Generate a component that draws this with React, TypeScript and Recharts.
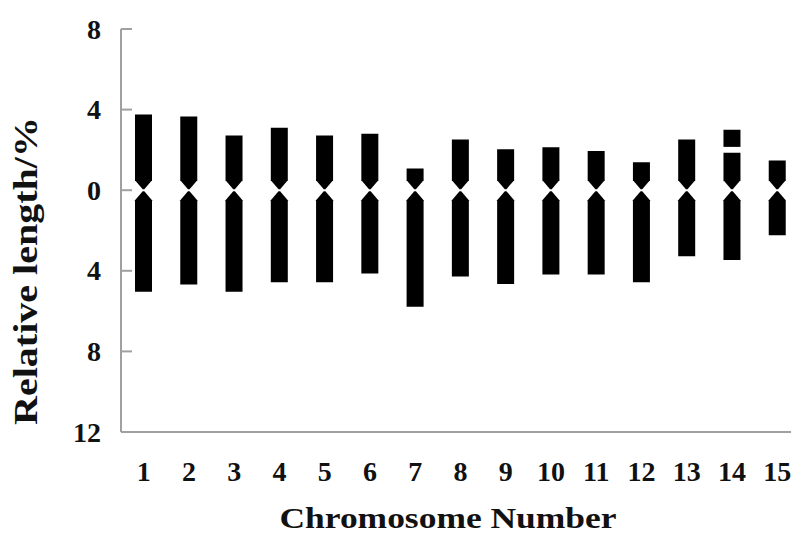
import { BarChart, Bar, XAxis, YAxis } from 'recharts';

const chromosomes = ['1', '2', '3', '4', '5', '6', '7', '8', '9', '10', '11', '12', '13', '14', '15'];
// short arm (p) and long arm (q) relative lengths, %
const shortArm = [3.76, 3.66, 2.71, 3.1, 2.71, 2.8, 1.08, 2.52, 2.03, 2.13, 1.94, 1.39, 2.52, 1.86, 1.47];
const longArm = [5.04, 4.68, 5.04, 4.57, 4.57, 4.13, 5.79, 4.28, 4.65, 4.18, 4.18, 4.57, 3.28, 3.47, 2.23];
// satellite on chromosome 14
const satelliteStart: (number | null)[] = [null, null, null, null, null, null, null, null, null, null, null, null, null, 2.15, null];
const satelliteEnd: (number | null)[] = [null, null, null, null, null, null, null, null, null, null, null, null, null, 3.0, null];
const yTicks = [-12, -8, -4, 0, 4, 8];

const data = chromosomes.map((chr, i) => ({
  chr,
  p: [0, shortArm[i]],
  q: [-longArm[i], 0],
  sat: satelliteStart[i] == null ? null : [satelliteStart[i], satelliteEnd[i]],
}));

const FONT = 'Liberation Serif, Times New Roman, Times, serif';
const AXIS = '#a0a0a0';
const TAPER = 10;

const span = (y: number, height: number) => [Math.min(y, y + height), Math.max(y, y + height)];

const ShortArm = (props: any) => {
  const { x, y, width, height } = props;
  if (width == null || height == null) return null;
  const [top, bottom] = span(y, height);
  const cx = x + width / 2;
  const pts = [
    [x, top], [x + width, top], [x + width, bottom - TAPER],
    [cx + 0.8, bottom - 1], [cx - 0.8, bottom - 1], [x, bottom - TAPER],
  ];
  return <polygon points={pts.map(p => p.join(',')).join(' ')} fill="#000" />;
};

const LongArm = (props: any) => {
  const { x, y, width, height } = props;
  if (width == null || height == null) return null;
  const [top, bottom] = span(y, height);
  const cx = x + width / 2;
  const pts = [
    [cx - 0.8, top + 1], [cx + 0.8, top + 1], [x + width, top + TAPER],
    [x + width, bottom], [x, bottom], [x, top + TAPER],
  ];
  return <polygon points={pts.map(p => p.join(',')).join(' ')} fill="#000" />;
};

const Satellite = (props: any) => {
  const { x, y, width, height } = props;
  if (width == null || height == null || !props.payload?.sat) return null;
  const [top, bottom] = span(y, height);
  return <rect x={x} y={top} width={width} height={bottom - top} fill="#000" />;
};

const YTick = (props: any) => {
  const { x, y, payload } = props;
  return (
    <g>
      {payload.value > -12 && <line x1={x} x2={x + 11} y1={y} y2={y} stroke={AXIS} strokeWidth={2} />}
      <text x={x - 20} y={y + 9.5} textAnchor="end" style={{ fontFamily: FONT, fontWeight: 700, fontSize: 28 }} fill="#111">
        {Math.abs(payload.value)}
      </text>
    </g>
  );
};

const XTick = (props: any) => {
  const { x, payload } = props;
  return (
    <text x={x} y={481} textAnchor="middle" style={{ fontFamily: FONT, fontWeight: 700, fontSize: 28 }} fill="#111">
      {payload.value}
    </text>
  );
};

const Titles = () => (
  <g>
    <text x={448} y={528} textAnchor="middle" style={{ fontFamily: FONT, fontWeight: 700, fontSize: 30 }} fill="#111"
      textLength={337} lengthAdjust="spacingAndGlyphs">
      Chromosome Number
    </text>
    <text x={37} y={271} transform="rotate(-90, 37, 271)" textAnchor="middle"
      style={{ fontFamily: FONT, fontWeight: 700, fontSize: 33 }} fill="#111" textLength={308} lengthAdjust="spacingAndGlyphs">
      Relative length/%
    </text>
  </g>
);

export default function App() {
  return (
    <div style={{ position: 'absolute', left: 0, top: 0, width: 791, height: 535, overflow: 'hidden', background: '#fff' }}>
      <BarChart width={800} height={535} data={data} margin={{ top: 29, right: 0, bottom: 0, left: 0 }}
        barSize={17} barGap={-17}>
        <XAxis dataKey="chr" height={103} tickLine={false} tick={<XTick />} interval={0}
          axisLine={{ stroke: AXIS, strokeWidth: 2 }} />
        <YAxis type="number" domain={[-12, 8]} ticks={yTicks} width={121} tickLine={false} tickSize={0}
          tickMargin={0} tick={<YTick />} interval={0} axisLine={{ stroke: AXIS, strokeWidth: 2 }} />
        <Bar dataKey="p" shape={<ShortArm />} isAnimationActive={false} />
        <Bar dataKey="q" shape={<LongArm />} isAnimationActive={false} />
        <Bar dataKey="sat" shape={<Satellite />} isAnimationActive={false} />
        <Titles />
      </BarChart>
    </div>
  );
}
